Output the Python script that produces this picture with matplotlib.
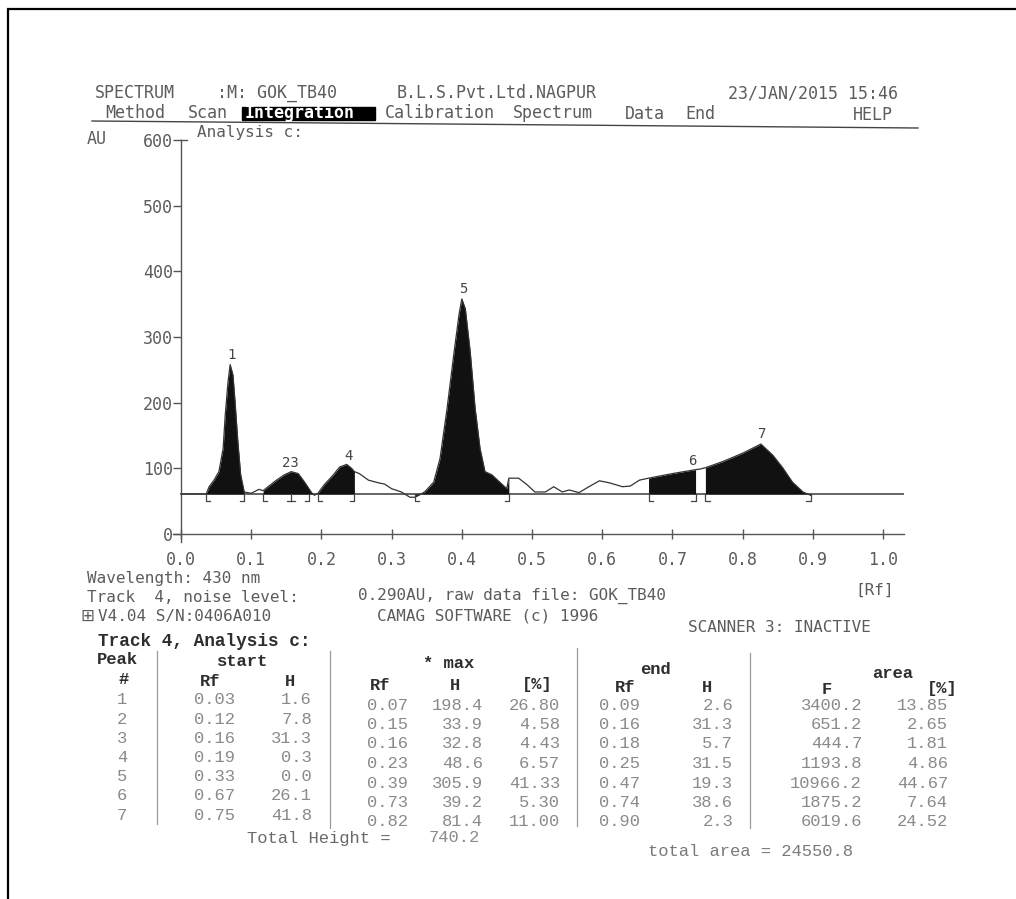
import numpy as np
import matplotlib
matplotlib.use("Agg")
import matplotlib.pyplot as plt
from matplotlib.patches import Rectangle

W, H = 1016, 899

# ---------------- data ----------------
trace_rf = [0.000, 0.030, 0.036, 0.040, 0.047, 0.054, 0.060, 0.063, 0.067, 0.070,
            0.074, 0.077, 0.081, 0.085, 0.090, 0.100, 0.111, 0.117, 0.124, 0.136,
            0.147, 0.157, 0.167, 0.176, 0.186, 0.190, 0.195, 0.204, 0.217, 0.226,
            0.236, 0.243, 0.247, 0.254, 0.267, 0.281, 0.290, 0.300, 0.314, 0.326,
            0.333, 0.347, 0.360, 0.369, 0.379, 0.389, 0.396, 0.400, 0.405, 0.412,
            0.419, 0.426, 0.433, 0.443, 0.454, 0.464, 0.467, 0.481, 0.493, 0.504,
            0.519, 0.531, 0.543, 0.553, 0.567, 0.581, 0.596, 0.610, 0.629, 0.640,
            0.653, 0.666, 0.700, 0.733, 0.740, 0.747, 0.771, 0.800, 0.826, 0.843,
            0.857, 0.871, 0.886, 0.897]
trace_au = [61, 61, 61, 72, 82, 95, 130, 181, 232, 258,
            242, 201, 140, 90, 64, 62, 68, 66, 72, 82,
            90, 95, 92, 79, 63, 59, 62, 75, 90, 102,
            106, 100, 95, 92, 82, 78, 76, 69, 64, 56,
            56, 64, 79, 115, 191, 277, 334, 358, 343, 277,
            191, 130, 95, 90, 79, 69, 85, 85, 75, 64,
            64, 72, 64, 67, 63, 72, 81, 78, 72, 73,
            82, 85, 92, 98, 99, 101, 110, 123, 137, 120,
            101, 79, 64, 59]
baseline_au = 61
fill_windows = [(0.036, 0.090), (0.117, 0.190), (0.195, 0.247),
                (0.333, 0.467), (0.666, 0.733), (0.747, 0.897)]
mark_start = [0.036, 0.117, 0.195, 0.333, 0.666, 0.747]
mark_end = [0.090, 0.183, 0.247, 0.467, 0.733, 0.897]
mark_mid = [0.157]
peak_labels = ["1", "23", "4", "5", "6", "7"]
peak_label_rf = [0.072, 0.156, 0.238, 0.402, 0.729, 0.828]
peak_label_au = [262, 97, 108, 362, 100, 141]
x_ticks = [0.0, 0.1, 0.2, 0.3, 0.4, 0.5, 0.6, 0.7, 0.8, 0.9, 1.0]
y_ticks = [0, 100, 200, 300, 400, 500, 600]

peak_no = ["1", "2", "3", "4", "5", "6", "7"]
start_rf = ["0.03", "0.12", "0.16", "0.19", "0.33", "0.67", "0.75"]
start_h = ["1.6", "7.8", "31.3", "0.3", "0.0", "26.1", "41.8"]
max_rf = ["0.07", "0.15", "0.16", "0.23", "0.39", "0.73", "0.82"]
max_h = ["198.4", "33.9", "32.8", "48.6", "305.9", "39.2", "81.4"]
max_pct = ["26.80", "4.58", "4.43", "6.57", "41.33", "5.30", "11.00"]
end_rf = ["0.09", "0.16", "0.18", "0.25", "0.47", "0.74", "0.90"]
end_h = ["2.6", "31.3", "5.7", "31.5", "19.3", "38.6", "2.3"]
area_f = ["3400.2", "651.2", "444.7", "1193.8", "10966.2", "1875.2", "6019.6"]
area_pct = ["13.85", "2.65", "1.81", "4.86", "44.67", "7.64", "24.52"]
total_height = "740.2"
total_area = "24550.8"

# ---------------- figure ----------------
plt.rcParams["font.family"] = ["DejaVu Sans Mono", "DejaVu Sans"]
fig = plt.figure(figsize=(W / 100, H / 100), dpi=100)
fig.patch.set_facecolor("white")

ov = fig.add_axes([0, 0, 1, 1])
ov.set_xlim(0, W)
ov.set_ylim(H, 0)
ov.axis("off")

# frame (top + left)
ov.plot([7, W], [9, 9], color="black", lw=1.6, solid_capstyle="butt")
ov.plot([8, 8], [9, H], color="black", lw=1.6, solid_capstyle="butt")

top_c = "#5c5c5c"
fs_top = 12


def t(x, y, s, **kw):
    kw.setdefault("color", top_c)
    kw.setdefault("fontsize", fs_top)
    kw.setdefault("va", "center")
    kw.setdefault("ha", "left")
    ov.text(x, y, s, **kw)


# header
t(95, 93, "SPECTRUM")
t(217, 93, ":M: GOK_TB40")
t(397, 93, "B.L.S.Pvt.Ltd.NAGPUR")
t(728, 93, "23/JAN/2015 15:46")
t(105, 113, "Method")
t(188, 113, "Scan")
ov.add_patch(Rectangle((242, 107), 133, 13, color="black", zorder=3))
t(245, 113, "Integration", color="white", fontweight="bold", zorder=4)
t(385, 113, "Calibration")
t(513, 113, "Spectrum")
t(625, 114, "Data")
t(685, 114, "End")
t(853, 115, "HELP")
ov.plot([92, 918], [121, 128], color="#444444", lw=1.0)
t(87, 139, "AU")
t(197, 133, "Analysis c:", fontsize=11.5)

# footer of chart
t(87, 579, "Wavelength: 430 nm", fontsize=11.5)
t(87, 597, "Track  4, noise level:", fontsize=11.5)
t(358, 596, "0.290AU, raw data file: GOK_TB40", fontsize=11.5)
t(855, 590, "[Rf]", fontsize=11.5)
t(80, 616, "\u229e", family="DejaVu Sans")
t(98, 616, "V4.04 S/N:0406A010", fontsize=11.5)
t(377, 616, "CAMAG SOFTWARE (c) 1996", fontsize=11.5)
t(688, 628, "SCANNER 3: INACTIVE", fontsize=11.5)

# ---------------- chart axes ----------------
x0px, x1px = 181, 883
y0px, y1px = 534, 140
sx = (x1px - x0px) / 1.0
sy = (y0px - y1px) / 600.0
xmin, xmax = -0.016, 1.03
ymin, ymax = -16, 606
left = (x0px + xmin * sx) / W
right = (x0px + xmax * sx) / W
bottom = 1 - (y0px - ymin * sy) / H
top = 1 - (y0px - ymax * sy) / H
ax = fig.add_axes([left, bottom, right - left, top - bottom])
ax.set_facecolor("none")
ax.set_xlim(xmin, xmax)
ax.set_ylim(ymin, ymax)

axis_c = "#555555"
for s in ["top", "right"]:
    ax.spines[s].set_visible(False)
ax.spines["left"].set_position(("data", 0))
ax.spines["bottom"].set_position(("data", 0))
ax.spines["left"].set_bounds(-12, 600)
ax.spines["bottom"].set_bounds(-0.012, 1.03)
for s in ["left", "bottom"]:
    ax.spines[s].set_color(axis_c)
    ax.spines[s].set_linewidth(1.0)

ax.set_xticks(x_ticks)
ax.set_xticklabels(["%.1f" % v for v in x_ticks])
ax.set_yticks(y_ticks)
ax.set_yticklabels([str(v) for v in y_ticks])
ax.tick_params(axis="x", direction="inout", length=7, width=1, color=axis_c,
               labelsize=12, labelcolor=top_c, pad=9)
ax.tick_params(axis="y", direction="out", length=6, width=1, color=axis_c,
               labelsize=12, labelcolor=top_c, pad=0)
ax.plot([0, 0.009], [600, 600], color=axis_c, lw=1.0)

rf = np.array(trace_rf)
au = np.array(trace_au)

# baseline
ax.plot([0, 1.03], [baseline_au, baseline_au], color="#3a3a3a", lw=1.1, zorder=2)

# filled peaks
for a, b in fill_windows:
    m = (rf >= a - 1e-9) & (rf <= b + 1e-9)
    ax.fill_between(rf[m], au[m], baseline_au, color="#111111", lw=0, zorder=3)

# trace
ax.plot(rf, au, color="#333333", lw=0.9, zorder=4)

# boundary marks
mh = 11
foot = 0.006
mk = dict(color="#444444", lw=0.9, zorder=4)
for r in mark_start:
    ax.plot([r, r, r + foot], [baseline_au, baseline_au - mh, baseline_au - mh], **mk)
for r in mark_end:
    ax.plot([r - foot, r, r], [baseline_au - mh, baseline_au - mh, baseline_au], **mk)
for r in mark_mid:
    ax.plot([r, r], [baseline_au, baseline_au - mh], **mk)
    ax.plot([r - foot, r + foot], [baseline_au - mh, baseline_au - mh], **mk)

for lab, r, v in zip(peak_labels, peak_label_rf, peak_label_au):
    ax.text(r, v, lab, ha="center", va="bottom", fontsize=10, color="#444444", zorder=5)

# ---------------- table ----------------
tf = "Liberation Mono"
hc = "#2e2e2e"
vc = "#8a8a8a"


def tt(x, y, s, ha="left", bold=False, color=None, fs=12.3):
    ov.text(x, y, s, family=tf, fontsize=fs, ha=ha, va="center",
            fontweight="bold" if bold else "normal",
            color=color if color else (hc if bold else vc))


tt(98, 642, "Track 4, Analysis c:", bold=True, fs=12.8)
tt(97, 659, "Peak", bold=True)
tt(124, 680, "#", ha="center", bold=True)
tt(243, 662, "start", ha="center", bold=True)
tt(200, 681, "Rf", bold=True)
tt(290, 681, "H", ha="center", bold=True)
tt(423, 664, "* max", bold=True)
tt(370, 685, "Rf", bold=True)
tt(455, 685, "H", ha="center", bold=True)
tt(522, 685, "[%]", bold=True)
tt(640, 670, "end", bold=True)
tt(615, 688, "Rf", bold=True)
tt(707, 688, "H", ha="center", bold=True)
tt(872, 673, "area", bold=True)
tt(827, 689, "F", ha="center", bold=True)
tt(927, 689, "[%]", bold=True)

for i in range(len(peak_no)):
    ya = 700 + 19.2 * i
    yb = 705 + 19.5 * i
    tt(122, ya, peak_no[i], ha="center")
    tt(235, ya, start_rf[i], ha="right")
    tt(312, ya, start_h[i], ha="right")
    tt(408, yb, max_rf[i], ha="right")
    tt(483, yb, max_h[i], ha="right")
    tt(560, yb, max_pct[i], ha="right")
    tt(640, yb, end_rf[i], ha="right")
    tt(733, yb, end_h[i], ha="right")
    tt(862, yb, area_f[i], ha="right")
    tt(948, yb, area_pct[i], ha="right")

tt(247, 838, "Total Height =", color="#6a6a6a")
tt(480, 838, total_height, ha="right")
tt(648, 852, "total area = " + total_area, color="#7a7a7a")

sep_c = "#9a9a9a"
for x, y_a, y_b in [(157, 651, 824), (330, 651, 828), (577, 648, 826), (750, 653, 828)]:
    ov.plot([x, x], [y_a, y_b], color=sep_c, lw=0.9)

fig.savefig("out.png", dpi=100, facecolor="white")
